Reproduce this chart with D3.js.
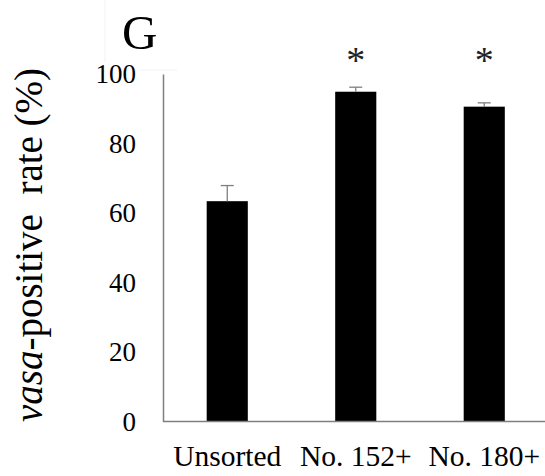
<!DOCTYPE html>
<html>
<head>
<meta charset="utf-8">
<script src="https://cdn.jsdelivr.net/npm/d3@7"></script>
<style>
  body { margin: 0; background: #fff; }
  svg { display: block; }
  svg text { font-family: "Liberation Serif", "Times New Roman", serif !important; }
</style>
</head>
<body>
<svg id="canvas"></svg>
<script>
let width = 545;
let height = 476;

// data
let groups = ['Unsorted', 'No. 152+', 'No. 180+'];
let means = [63.4, 94.9, 90.6];
let errors = [4.5, 1.3, 1.1];
let marks = ['', '*', '*'];
let yTicks = [0, 20, 40, 60, 80, 100];

let axisColor = '#7f7f7f';

let canvas = d3.select('#canvas')
  .attr('width', width)
  .attr('height', height);

let xScale = d3.scaleBand()
  .domain(groups)
  .range([163, 548.5])
  .paddingInner(0.68)
  .paddingOuter(0.34);

let yScale = d3.scaleLinear()
  .domain([0, 100])
  .range([421.5, 74]);

// faint crop lines of the original panel
canvas.append('line')
  .attr('x1', 105).attr('x2', 105).attr('y1', 0).attr('y2', 62)
  .attr('stroke', '#f2f2f2');
canvas.append('line')
  .attr('x1', 140).attr('x2', 177).attr('y1', 70).attr('y2', 70)
  .attr('stroke', '#f2f2f2');

// panel letter
canvas.append('text')
  .attr('x', 122)
  .attr('y', 49)
  .attr('font-size', 49)
  .attr('fill', '#000')
  .text('G');

// bars
canvas.selectAll('rect.bar')
  .data(groups)
  .enter()
  .append('rect')
  .attr('class', 'bar')
  .attr('x', (d) => xScale(d))
  .attr('width', xScale.bandwidth())
  .attr('y', (d, i) => yScale(means[i]))
  .attr('height', (d, i) => yScale(0) - yScale(means[i]))
  .attr('fill', '#000');

// error bars (plus side only)
let err = canvas.append('g').attr('stroke', axisColor).attr('stroke-width', 1.3);
groups.forEach((g, i) => {
  let cx = xScale(g) + xScale.bandwidth() / 2;
  err.append('line')
    .attr('x1', cx).attr('x2', cx)
    .attr('y1', yScale(means[i])).attr('y2', yScale(means[i] + errors[i]));
  err.append('line')
    .attr('x1', cx - 6.5).attr('x2', cx + 6.5)
    .attr('y1', yScale(means[i] + errors[i])).attr('y2', yScale(means[i] + errors[i]));
});

// significance marks
canvas.selectAll('text.mark')
  .data(groups)
  .enter()
  .append('text')
  .attr('class', 'mark')
  .attr('x', (d) => xScale(d) + xScale.bandwidth() / 2)
  .attr('y', 73)
  .attr('text-anchor', 'middle')
  .attr('font-size', 38)
  .attr('fill', '#222')
  .text((d, i) => marks[i]);

// axes
let yAxis = d3.axisLeft(yScale)
  .tickValues(yTicks)
  .tickSize(0)
  .tickSizeOuter(0)
  .tickPadding(27);

let yG = canvas.append('g')
  .attr('transform', 'translate(163,0)')
  .call(yAxis)
  .attr('font-family', null);
yG.select('.domain').attr('stroke', axisColor).attr('stroke-width', 1.5);
yG.selectAll('text')
  .attr('font-size', 27)
  .attr('fill', '#000');

let xAxis = d3.axisBottom(xScale)
  .tickSize(0)
  .tickSizeOuter(0);

let xG = canvas.append('g')
  .attr('transform', 'translate(0,' + yScale(0) + ')')
  .call(xAxis)
  .attr('font-family', null);
xG.select('.domain').remove();
xG.append('line')
  .attr('x1', 163).attr('x2', width)
  .attr('y1', 0).attr('y2', 0)
  .attr('stroke', axisColor).attr('stroke-width', 1.5);
xG.selectAll('text')
  .attr('dy', null)
  .attr('y', 44)
  .attr('font-size', 29.5)
  .attr('fill', '#000');

// y axis title
let title = canvas.append('text')
  .attr('transform', 'translate(42,' + 245 + ') rotate(-90)')
  .attr('text-anchor', 'middle')
  .attr('font-size', 39)
  .attr('fill', '#000');
title.append('tspan').attr('font-style', 'italic').text('vasa');
title.append('tspan').text('-positive\u00a0 rate (%)');
</script>
</body>
</html>
